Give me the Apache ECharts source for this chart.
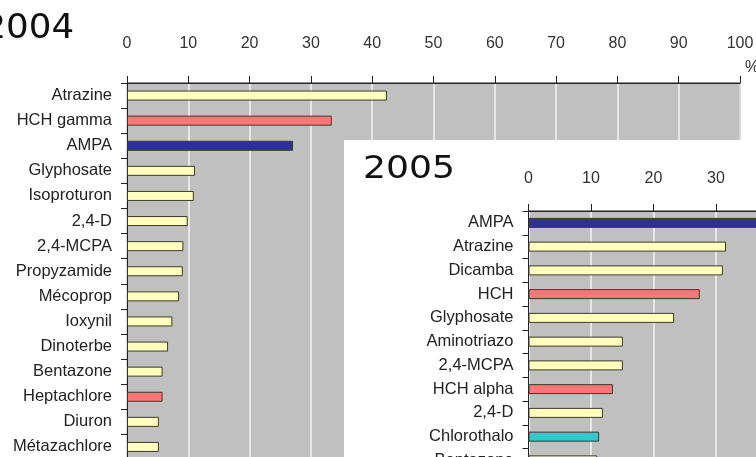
<!DOCTYPE html>
<html>
<head>
<meta charset="utf-8">
<script src="https://cdn.jsdelivr.net/npm/echarts@6/dist/echarts.min.js"></script>
<style>
html,body{margin:0;padding:0;background:#fff;}
#c{width:756px;height:457px;}
</style>
</head>
<body>
<div id="c"></div>
<script>
// ---- data ----
const categories2004 = ['Atrazine','HCH gamma','AMPA','Glyphosate','Isoproturon','2,4-D','2,4-MCPA','Propyzamide','Mécoprop','Ioxynil','Dinoterbe','Bentazone','Heptachlore','Diuron','Métazachlore'];
const values2004 = [42.4,33.4,27.1,11.1,10.9,9.9,9.2,9.1,8.5,7.4,6.7,5.8,5.8,5.2,5.2];
const groups2004 = ['herbicide','insecticide','metabolite','herbicide','herbicide','herbicide','herbicide','herbicide','herbicide','herbicide','herbicide','herbicide','insecticide','herbicide','herbicide'];

const categories2005 = ['AMPA','Atrazine','Dicamba','HCH','Glyphosate','Aminotriazo','2,4-MCPA','HCH alpha','2,4-D','Chlorothalo','Bentazone'];
const values2005 = [45,31.6,31.1,27.4,23.3,15.1,15.1,13.5,11.9,11.3,11.0];
const groups2005 = ['metabolite','herbicide','herbicide','insecticide','herbicide','herbicide','herbicide','insecticide','herbicide','fungicide','herbicide'];

const tickLabels = ['0','10','20','30','40','50','60','70','80','90','100'];
const titles = ['2004','2005'];
const unitLabel = '%';

// ---- style ----
const groupColors = {herbicide:'#ffffbe', insecticide:'#ff7676', metabolite:'#2e3192', fungicide:'#33c9cc'};
const labelFont = "'Liberation Sans',Arial,sans-serif";

function barData(vals, groups){
  return vals.map((v,i)=>({value:v, itemStyle:{color:groupColors[groups[i]]}}));
}
function xAxisCfg(gi, margin, zl){
  return {
    gridIndex:gi, type:'value', position:'top', min:0, max:100, interval:10, zlevel:zl,
    axisLine:{show:true, lineStyle:{color:'#222', width:1}},
    axisTick:{show:true, length:7, lineStyle:{color:'#222'}},
    axisLabel:{margin:margin, fontSize:16, color:'#333', fontFamily:labelFont,
      formatter:(v)=>tickLabels[Math.round(v/10)]},
    splitLine:{show:true, lineStyle:{color:'#f4f4f4', width:1.5}}
  };
}
function yAxisCfg(gi, cats, zl){
  return {
    gridIndex:gi, type:'category', data:cats, inverse:true, zlevel:zl,
    axisLine:{show:true, lineStyle:{color:'#222', width:1}},
    axisTick:{show:true, length:6, lineStyle:{color:'#222'}},
    axisLabel:{interval:0, margin:15, fontSize:16.5, color:'#222', fontFamily:labelFont}
  };
}

const chart = echarts.init(document.getElementById('c'), null, {renderer:'canvas'});
chart.setOption({
  animation:false,
  backgroundColor:'#fff',
  grid:[
    {left:127, top:83, width:613, height:categories2004.length*25.1, show:true, backgroundColor:'#c0c0c0', borderColor:'#222', borderWidth:1, zlevel:0, containLabel:false, outerBoundsMode:'none'},
    {left:528.5, top:211, width:625, height:categories2005.length*23.75, show:true, backgroundColor:'#c0c0c0', borderColor:'#222', borderWidth:1, zlevel:2, containLabel:false, outerBoundsMode:'none'}
  ],
  xAxis:[xAxisCfg(0, 31.5, 0), xAxisCfg(1, 24.5, 2)],
  yAxis:[yAxisCfg(0, categories2004, 0), yAxisCfg(1, categories2005, 2)],
  series:[
    {type:'bar', xAxisIndex:0, yAxisIndex:0, zlevel:0, barWidth:10,
     itemStyle:{borderColor:'#3a3a2a', borderWidth:1}, data:barData(values2004, groups2004)},
    {type:'bar', xAxisIndex:1, yAxisIndex:1, zlevel:2, barWidth:10,
     itemStyle:{borderColor:'#3a3a2a', borderWidth:1}, data:barData(values2005, groups2005)}
  ],
  graphic:[
    {type:'text', zlevel:0, x:-15, y:13, scaleX:1.08, style:{x:-1.5, text:titles[0], font:"33px 'DejaVu Sans',sans-serif", fill:'#111'}},
    {type:'text', zlevel:0, left:745, top:60, style:{text:unitLabel, font:"16px 'Liberation Sans',sans-serif", fill:'#333'}},
    {type:'rect', zlevel:1, shape:{x:344, y:140, width:420, height:330}, style:{fill:'#fff'}},
    {type:'text', zlevel:2, x:363, y:154, scaleX:1.13, style:{text:titles[1], font:"32px 'DejaVu Sans',sans-serif", fill:'#111'}}
  ]
});
</script>
</body>
</html>
